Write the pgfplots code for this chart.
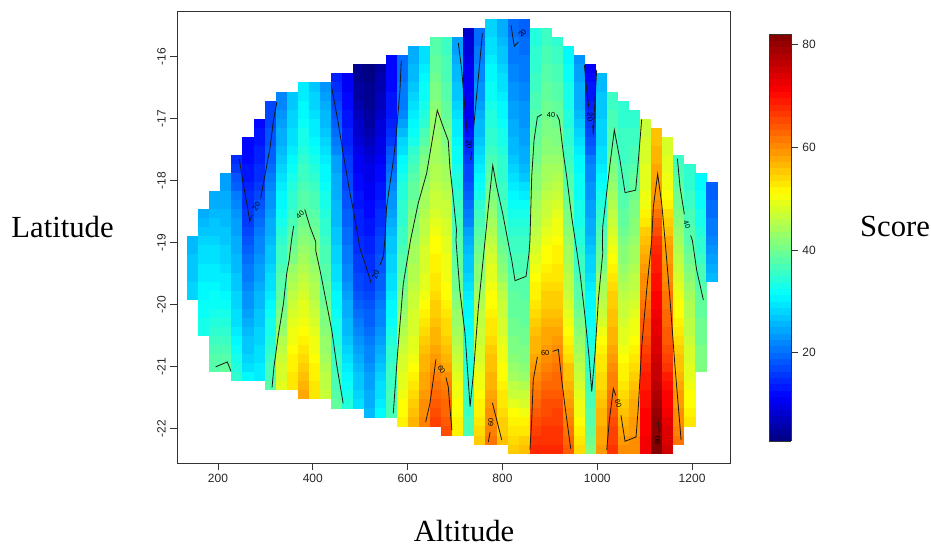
\documentclass[border=0pt]{standalone}
\usepackage{fontspec}
\usepackage{pgfplots}
\usepackage{pgfplotstable}
\pgfplotsset{compat=1.18}
\setmainfont{Liberation Serif}
\newfontfamily\arial{Liberation Sans}

\definecolor{axisgray}{HTML}{333333}
\pgfdeclareplotmark{cell}{%
  \pgfpathrectangle{\pgfpoint{-4.2pt}{-3.45pt}}{\pgfpoint{8.4pt}{6.9pt}}%
  \pgfusepathqfill}
\pgfplotsset{ct/.style={black!90,line width=0.6pt,forget plot}}
\tikzset{cl/.style={font=\arial\fontsize{5.5}{5.5}\selectfont,inner sep=0pt}}

% one line per map column (left to right), one entry per map row (top to bottom)
\pgfplotstableread[header=false]{
nan nan nan nan nan nan nan nan nan nan nan nan nan nan nan nan nan nan nan nan nan nan nan nan 26 26 27 27 27 28 28 nan nan nan nan nan nan nan nan nan nan nan nan nan nan nan nan nan
nan nan nan nan nan nan nan nan nan nan nan nan nan nan nan nan nan nan nan nan nan 25 26 27 28 29 29 30 30 31 31 32 32 33 33 nan nan nan nan nan nan nan nan nan nan nan nan nan
nan nan nan nan nan nan nan nan nan nan nan nan nan nan nan nan nan nan nan 25 25 26 27 27 28 29 29 30 30 31 32 32 33 34 35 36 37 38 38 nan nan nan nan nan nan nan nan nan
nan nan nan nan nan nan nan nan nan nan nan nan nan nan nan nan nan 24 24 25 25 26 26 27 27 28 28 29 30 30 31 32 33 34 35 36 37 38 39 nan nan nan nan nan nan nan nan nan
nan nan nan nan nan nan nan nan nan nan nan nan nan nan nan 15 16 18 19 21 22 23 24 24 25 25 26 26 27 27 28 28 29 29 30 31 32 33 34 35 nan nan nan nan nan nan nan nan
nan nan nan nan nan nan nan nan nan nan nan nan nan 12 12 12 13 13 14 15 15 16 16 17 18 19 20 21 21 22 23 23 24 25 26 27 27 28 29 31 nan nan nan nan nan nan nan nan
nan nan nan nan nan nan nan nan nan nan nan 12 13 13 14 14 15 15 16 17 18 19 20 21 22 22 23 24 24 25 26 26 27 27 28 28 29 29 30 30 nan nan nan nan nan nan nan nan
nan nan nan nan nan nan nan nan nan 17 17 17 18 18 19 19 20 21 22 23 23 24 25 25 26 27 27 28 29 29 30 31 32 33 33 34 35 36 37 37 38 nan nan nan nan nan nan nan
nan nan nan nan nan nan nan nan 22 22 23 24 25 25 26 27 28 29 30 31 31 32 33 34 35 36 36 37 38 38 39 40 41 42 43 45 46 47 48 48 49 nan nan nan nan nan nan nan
nan nan nan nan nan nan nan nan 27 27 28 28 29 29 30 31 32 33 34 35 35 36 37 38 39 40 41 43 44 45 46 47 48 49 50 50 51 52 52 53 53 nan nan nan nan nan nan nan
nan nan nan nan nan nan nan 30 30 31 31 32 33 33 34 35 36 36 37 38 38 39 40 41 42 43 44 45 46 47 48 49 49 50 51 52 53 54 55 56 57 58 nan nan nan nan nan nan
nan nan nan nan nan nan nan 27 28 28 29 30 30 31 32 33 34 35 36 37 37 38 39 40 41 42 42 43 44 45 45 46 47 48 49 50 50 51 52 52 53 53 nan nan nan nan nan nan
nan nan nan nan nan nan nan 23 24 25 26 26 27 28 29 30 31 31 32 33 33 34 35 35 36 37 37 38 38 39 39 40 41 41 42 43 43 44 45 46 46 47 nan nan nan nan nan nan
nan nan nan nan nan nan 14 15 16 17 18 19 20 21 22 24 24 25 25 25 26 26 26 27 27 28 28 29 29 30 31 31 32 33 33 34 35 36 36 37 37 38 39 nan nan nan nan nan
nan nan nan nan nan nan 11 11 12 12 13 13 14 14 15 16 16 17 17 18 18 19 19 20 20 21 21 22 22 23 24 25 25 26 26 27 28 29 30 31 32 33 34 nan nan nan nan nan
nan nan nan nan nan 4 4 5 5 6 7 8 8 9 10 11 11 12 12 13 13 14 14 14 15 15 16 16 17 17 18 19 20 21 22 23 24 25 26 27 27 28 29 nan nan nan nan nan
nan nan nan nan nan 3 3 4 4 4 5 5 6 7 8 9 10 10 11 11 12 12 13 13 14 14 15 15 16 16 17 18 19 19 20 21 22 22 23 24 24 25 25 26 nan nan nan nan
nan nan nan nan nan 5 6 6 7 7 8 9 9 10 10 11 12 12 13 13 14 15 15 16 17 17 18 18 19 19 20 21 22 22 23 24 25 26 27 28 29 29 30 31 nan nan nan nan
nan nan nan nan 12 12 12 12 13 13 13 14 15 16 18 19 20 21 22 23 23 24 25 26 27 27 28 28 29 29 30 31 31 32 33 34 35 35 36 36 36 37 37 37 nan nan nan nan
nan nan nan nan 20 20 20 21 21 21 22 24 26 28 29 31 32 33 34 34 35 35 35 36 36 37 38 38 39 40 41 42 43 44 45 46 47 48 48 49 49 50 51 51 52 nan nan nan
nan nan nan 25 25 26 26 27 28 29 30 31 32 33 35 36 37 38 39 39 40 41 42 42 43 44 44 45 45 46 47 47 48 48 48 49 49 50 51 52 53 54 55 56 57 nan nan nan
nan nan nan 29 29 30 31 32 32 33 34 35 37 38 40 41 42 42 43 44 44 45 46 46 47 48 48 48 49 49 50 51 52 53 54 55 56 57 57 58 58 59 60 60 61 nan nan nan
nan nan 38 38 39 39 40 41 41 42 43 43 43 44 44 44 45 45 46 47 47 48 49 50 51 51 52 52 53 53 54 55 55 56 57 57 58 59 60 61 62 63 64 65 66 nan nan nan
nan nan 36 36 37 37 37 38 38 39 39 40 41 41 42 43 44 44 45 46 47 47 48 48 49 49 50 50 50 51 51 52 53 54 54 55 56 57 58 60 61 62 63 63 64 65 nan nan
nan nan 24 24 25 26 26 27 27 28 29 30 30 31 32 32 33 34 34 35 36 36 37 37 38 38 39 39 40 40 41 42 43 43 44 45 46 47 48 49 50 50 51 51 52 52 nan nan
nan 8 9 9 10 11 11 11 11 11 11 12 13 14 15 16 17 17 18 19 20 21 22 24 25 26 27 27 28 29 30 31 31 32 32 33 34 34 34 35 35 36 36 36 37 37 nan nan
nan 20 20 21 21 22 22 23 23 24 25 26 26 27 28 29 30 31 32 33 35 36 37 38 39 40 41 42 42 43 44 45 46 46 47 47 48 48 49 50 50 51 52 52 53 54 55 nan
28 28 29 29 30 31 31 32 32 33 34 34 35 35 36 37 38 39 40 41 42 43 44 45 46 47 48 49 49 50 51 51 52 53 53 54 55 56 56 57 57 58 59 60 60 61 62 nan
25 25 26 27 27 28 29 29 30 31 31 32 33 33 34 35 35 35 36 36 37 37 38 38 39 40 41 42 43 45 46 47 47 48 48 49 50 50 51 51 52 53 53 54 55 55 56 nan
20 20 21 21 21 22 22 23 23 24 24 25 25 26 26 27 28 29 30 31 32 33 34 35 36 36 37 37 38 38 39 39 39 40 40 41 41 42 43 44 46 47 49 51 52 53 54 55
19 19 20 20 21 21 21 22 22 23 23 23 24 24 25 25 26 27 29 30 32 33 34 35 36 36 37 37 38 38 38 39 39 39 40 40 41 41 42 43 45 47 48 50 52 53 55 56
nan 34 34 35 35 35 36 36 37 37 38 38 39 39 40 40 41 42 42 43 44 45 45 46 47 48 49 50 51 52 52 53 54 55 56 57 57 58 59 60 61 62 63 64 65 66 67 68
nan 36 36 37 37 38 38 39 39 40 40 41 41 42 42 43 44 44 45 46 47 47 48 49 50 51 51 52 53 54 55 55 56 57 58 58 59 60 61 62 63 64 65 65 66 67 67 68
nan nan 35 36 36 37 37 38 38 39 39 40 41 41 42 43 44 45 46 47 48 49 50 50 51 52 52 53 53 54 55 55 56 57 58 59 60 61 62 63 63 64 65 66 66 67 67 68
nan nan nan 31 31 32 32 33 33 33 34 34 35 35 36 36 37 38 38 39 40 41 41 42 43 44 44 45 46 46 47 48 49 50 51 52 53 54 56 56 57 58 59 60 61 62 63 64
nan nan nan nan 23 24 24 25 25 25 26 27 28 29 30 31 31 32 32 32 33 33 33 34 34 35 36 36 37 38 38 39 40 41 42 43 44 45 46 47 48 49 50 50 51 52 53 54
nan nan nan nan nan 11 12 13 13 14 15 16 17 18 19 21 22 22 23 23 24 24 25 25 26 27 28 28 29 30 31 31 32 32 33 33 34 35 35 36 36 37 37 38 38 39 40 41
nan nan nan nan nan nan 26 26 27 27 27 28 28 28 29 29 30 31 32 33 34 35 36 37 38 39 40 41 43 44 45 46 47 48 50 51 52 53 53 54 54 55 56 57 57 58 58 59
nan nan nan nan nan nan nan nan 36 36 37 37 38 38 39 40 41 42 43 44 45 46 47 48 49 50 51 52 53 54 55 55 56 56 57 57 58 59 60 61 61 62 63 64 65 66 66 67
nan nan nan nan nan nan nan nan nan 35 35 35 36 36 36 36 37 37 37 38 38 39 39 40 41 42 42 43 44 45 46 47 47 48 49 49 50 51 52 52 53 54 55 56 57 58 59 60
nan nan nan nan nan nan nan nan nan nan 35 35 36 36 37 37 38 39 39 40 41 41 42 42 43 44 44 45 46 46 47 48 49 50 50 51 52 53 54 55 56 57 58 58 59 59 60 60
nan nan nan nan nan nan nan nan nan nan nan 47 47 48 48 48 49 49 49 50 50 52 53 55 56 57 58 59 60 60 61 62 63 64 64 65 66 67 68 69 69 70 70 71 71 71 72 72
nan nan nan nan nan nan nan nan nan nan nan nan 56 56 57 57 58 58 59 59 60 62 64 65 67 68 69 69 70 70 71 71 72 73 73 74 74 75 76 76 77 78 79 80 81 81 82 82
nan nan nan nan nan nan nan nan nan nan nan nan nan 48 48 49 49 50 50 51 52 54 55 56 58 59 59 60 60 61 62 62 63 63 64 64 65 66 67 69 70 71 71 72 73 74 74 75
nan nan nan nan nan nan nan nan nan nan nan nan nan nan nan 36 37 38 39 40 40 41 42 43 44 45 46 47 48 49 50 51 51 52 53 54 55 56 56 57 58 59 59 60 60 61 62 nan
nan nan nan nan nan nan nan nan nan nan nan nan nan nan nan nan 35 35 35 36 36 37 37 38 38 39 40 41 42 43 44 45 45 46 46 47 48 48 49 49 50 51 51 52 53 nan nan nan
nan nan nan nan nan nan nan nan nan nan nan nan nan nan nan nan nan 31 31 32 32 33 33 34 35 35 36 37 37 38 39 39 39 40 40 40 41 41 41 nan nan nan nan nan nan nan nan nan
nan nan nan nan nan nan nan nan nan nan nan nan nan nan nan nan nan nan 19 19 20 20 21 21 22 23 24 25 26 nan nan nan nan nan nan nan nan nan nan nan nan nan nan nan nan nan nan nan
}\cells

\begin{document}
\begin{tikzpicture}
\path (0,0) rectangle (698.25pt,408.75pt);
\begin{axis}[
at={(132.75pt,61.5pt)},
anchor=south west,
width=414.75pt,
height=339pt,
scale only axis,
set layers=standard,
mark layer=axis background,
xmin=113.5,
xmax=1280,
ymin=-22.55,
ymax=-15.26,
xtick={200,400,600,800,1000,1200},
ytick={-22,-21,-20,-19,-18,-17,-16},
yticklabels={-22,-21,-20,-19,-18,-17,-16},
tick align=outside,
major tick length=5pt,
xtick pos=bottom,
ytick pos=left,
axis line style={axisgray,line width=0.7pt},
tick style={axisgray,line width=0.6pt},
/pgf/number format/assume math mode=true,
/pgf/number format/1000 sep={},
tick label style={font=\arial\fontsize{9}{9}\selectfont,text=black!85},
yticklabel style={rotate=90,anchor=south},
xlabel={Altitude},
ylabel={Latitude},
label style={font=\fontsize{23}{23}\selectfont,inner sep=0pt},
xlabel style={at={(axis description cs:0.519,-0.150)},anchor=center},
ylabel style={at={(axis description cs:-0.207,0.522)},anchor=center,rotate=-90},
colormap={rs}{rgb255(0)=(0,0,128) rgb255(11)=(0,0,255) rgb255(36)=(0,255,255) rgb255(61)=(255,255,0) rgb255(86)=(255,0,0) rgb255(100)=(128,0,0)},
point meta min=2.8,
point meta max=82.1,
colorbar sampled,
colorbar style={
  samples=65,
  at={(1.0705,0.0487)},
  anchor=south west,
  width=16.5pt,
  height=305.25pt,
  ytick={20,40,60,80},
  yticklabels={20,40,60,80},
  tick align=outside,
  major tick length=5pt,
  ytick pos=right,
  axis line style={axisgray,line width=0.6pt},
  ylabel={Score},
  ylabel style={at={(axis description cs:5.73,0.526)},anchor=center,rotate=-90,font=\fontsize{23}{23}\selectfont,inner sep=0pt},
  yticklabel style={rotate=0,anchor=west},
},
]
\pgfplotsinvokeforeach{0,...,47}{
\addplot[forget plot,scatter,only marks,mark=cell,point meta=explicit,scatter/use mapped color={draw=mapped color,fill=mapped color}]
  table[x expr={146.9+23.3*\coordindex},y expr={(-15.465-0.146*#1)+\thisrowno{#1}-\thisrowno{#1}},meta expr={\thisrowno{#1}}] {\cells};
}
% contours
\addplot[ct] coordinates {(245,-17.65)(253,-18.04)(262,-18.42)(267,-18.65)(272,-18.55)};
\addplot[ct] coordinates {(290,-18.28)(299,-17.91)(310,-17.45)(317,-17.02)(324,-16.73)};
\addplot[ct] coordinates {(359.5,-18.73)(355,-18.96)(350,-19.28)(345,-19.49)(338,-19.98)(327,-20.5)(318,-21.0)(314,-21.33)};
\addplot[ct] coordinates {(383,-18.46)(394,-18.74)(406,-18.98)(406,-19.12)(416.5,-19.49)(429,-19.98)(440,-20.41)(450,-20.95)(457,-21.27)(464,-21.59)};
\addplot[ct] coordinates {(439,-16.46)(453.7,-17.07)(464,-17.56)(478,-18.18)(486.8,-18.53)(499.4,-19.09)(510,-19.33)(523,-19.65)};
\addplot[ct] coordinates {(541.6,-19.36)(548.6,-19.22)(552,-18.96)(555.7,-18.42)(571,-17.61)(576.7,-17.18)(583.8,-16.54)(586.6,-16.06)};
\addplot[ct] coordinates {(569.7,-21.75)(578.8,-20.78)(590.8,-19.66)(606,-18.96)(622,-18.37)(640,-17.88)(650.6,-17.40)(662.5,-16.86)(675,-17.13)(685.7,-17.35)(689,-17.77)(696,-18.26)(703,-18.79)(702,-18.96)(710,-19.76)(721,-20.46)(731.7,-21.64)(738.7,-21.11)(749.3,-20.03)(763.3,-18.96)(772.5,-18.26)(779.5,-17.75)(788,-18.10)(800.6,-18.53)(812.5,-19.01)(819.6,-19.28)(826.6,-19.61)(849.8,-19.54)(856,-19.17)(858,-18.96)(861.7,-17.93)(866.7,-17.34)(873.7,-16.97)(882.8,-16.93)};
\addplot[ct] coordinates {(914.5,-16.93)(920,-17.02)(928.5,-17.56)(935.5,-17.93)(946,-18.58)(956.6,-19.12)(963.7,-19.49)(974.2,-20.19)(982.7,-20.84)(988.3,-21.40)(995.3,-20.78)(1002.3,-19.92)(1011.5,-19.17)(1010.8,-18.96)(1011.5,-18.74)(1027,-17.72)(1036,-17.18)(1048,-17.67)(1058.6,-18.19)(1081,-18.15)(1086.7,-17.67)(1093.7,-17.01)};
\addplot[ct] coordinates {(707,-15.78)(714,-16.21)(721,-16.86)(726,-17.24)};
\addplot[ct] coordinates {(733,-17.67)(735,-17.53)};
\addplot[ct] coordinates {(738.7,-17.18)(749.3,-16.32)(757.7,-15.62)};
\addplot[ct] coordinates {(818,-15.49)(825,-15.83)(833.6,-15.76)};
\addplot[ct] coordinates {(972.8,-16.13)(977.7,-16.54)(982,-16.81)};
\addplot[ct] coordinates {(990.4,-17.10)(991.8,-17.25)(994,-16.86)(998.8,-16.21)};
\addplot[ct] coordinates {(1169,-17.64)(1174.6,-18.10)(1183.7,-18.54)};
\addplot[ct] coordinates {(1197,-18.88)(1200.6,-18.96)(1209.7,-19.44)(1223.8,-19.92)};
\addplot[ct] coordinates {(1020,-22.34)(1025.5,-21.86)(1034,-21.35)(1039,-21.46)};
\addplot[ct] coordinates {(1050,-21.78)(1058.6,-22.20)(1081.8,-22.13)(1086.7,-21.64)(1093.7,-20.68)(1104.3,-19.76)(1114.8,-18.96)(1118.3,-18.42)(1127.4,-17.89)(1136,-18.37)(1143,-18.96)(1153.5,-19.92)(1164,-21.0)(1174.6,-21.97)(1176.7,-22.18)};
\addplot[ct] coordinates {(638,-21.89)(647,-21.59)(654,-21.21)(659.7,-20.88)};
\addplot[ct] coordinates {(680.8,-21.17)(685.7,-21.32)(689,-21.64)(693.4,-22.02)};
\addplot[ct] coordinates {(770.3,-22.21)(773.9,-22.05)};
\addplot[ct] coordinates {(778.8,-21.58)(784.4,-21.75)(798.5,-22.18)};
\addplot[ct] coordinates {(858,-22.34)(861.7,-21.86)(865,-21.21)(873.7,-20.84)};
\addplot[ct] coordinates {(906,-20.75)(918,-20.72)(925,-21.21)(932,-21.64)(944,-22.32)};
\addplot[ct] coordinates {(1129,-21.89)(1131,-22.07)};
\addplot[ct] coordinates {(195,-21.0)(219.6,-20.92)(227.4,-21.07)};
% contour labels
\node[cl,rotate=55] at (axis cs:281,-18.41) {20};
\node[cl,rotate=45] at (axis cs:373,-18.55) {40};
\node[cl,rotate=70] at (axis cs:532.5,-19.51) {20};
\node[cl,rotate=-90] at (axis cs:729.6,-17.41) {20};
\node[cl,rotate=45] at (axis cs:842,-15.62) {20};
\node[cl,rotate=-90] at (axis cs:984.8,-16.97) {20};
\node[cl] at (axis cs:902.5,-16.93) {40};
\node[cl,rotate=-70] at (axis cs:1189.3,-18.70) {40};
\node[cl,rotate=-70] at (axis cs:1044.5,-21.59) {60};
\node[cl,rotate=-60] at (axis cs:671.7,-21.04) {60};
\node[cl,rotate=90] at (axis cs:775.3,-21.89) {60};
\node[cl] at (axis cs:890,-20.78) {60};
\node[cl,rotate=90] at (axis cs:1127,-22.19) {80};
\end{axis}
\end{tikzpicture}
\end{document}
